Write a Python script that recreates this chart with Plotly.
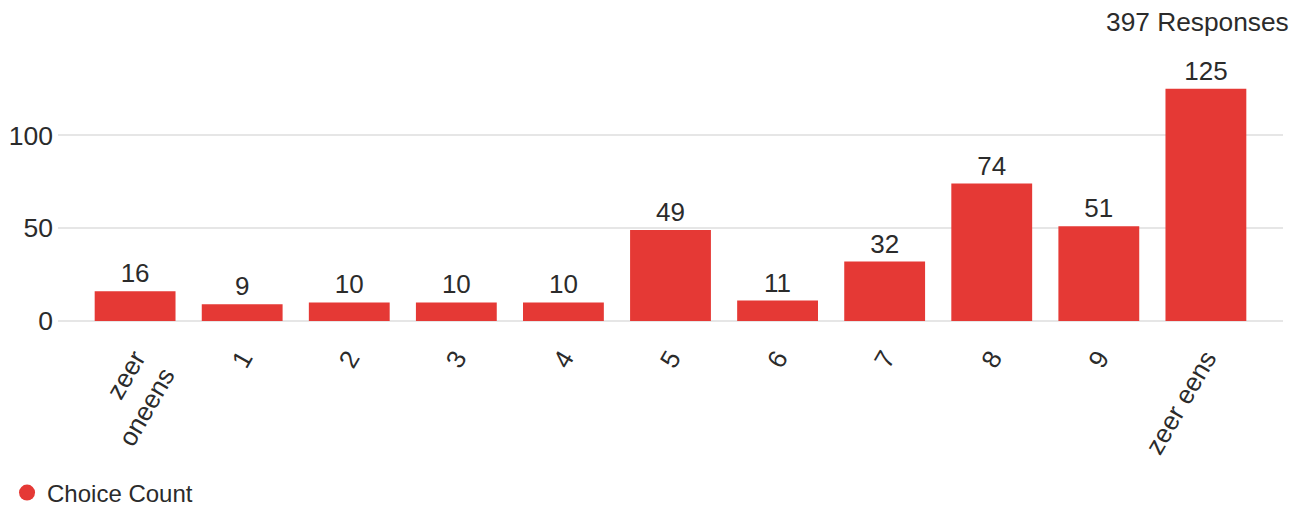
import plotly.graph_objects as go

categories = ["zeer<br>oneens", "1", "2", "3", "4", "5", "6", "7", "8", "9", "zeer eens"]
counts = [16, 9, 10, 10, 10, 49, 11, 32, 74, 51, 125]
series_name = "Choice Count"
total_label = "397 Responses"

BAR_COLOR = "#E53935"
FONT = "Liberation Sans, Arial, sans-serif"
TXT = "#2b2b2b"

# page body adds an 8px offset; the figure is sized to fit the 1304x506 window
W, H = 1296, 498
L, R, T, B = 50, 21, 52, 185
plot_h = H - T - B

fig = go.Figure()
fig.add_trace(go.Bar(
    x=categories, y=counts, name=series_name,
    marker=dict(color=BAR_COLOR, line=dict(width=0)),
    width=0.755,
    text=[str(v) for v in counts], textposition="outside",
    textfont=dict(family=FONT, size=26, color=TXT),
    cliponaxis=False, showlegend=False,
))
fig.add_trace(go.Scatter(
    x=[None], y=[None], mode="markers", name=series_name,
    marker=dict(color=BAR_COLOR, size=20, symbol="circle"),
    showlegend=True,
))

fig.update_layout(
    width=W, height=H,
    margin=dict(l=L, r=R, t=T, b=B, autoexpand=False),
    paper_bgcolor="white", plot_bgcolor="white",
    font=dict(family=FONT, size=26, color=TXT),
    xaxis=dict(
        type="category", range=[-0.72, 10.72], automargin=False,
        tickangle=-60, showgrid=False, showline=False, zeroline=False,
        ticks="", ticklabelstandoff=16,
        tickfont=dict(family=FONT, size=26, color=TXT),
    ),
    yaxis=dict(
        range=[0, 140.5], dtick=50, showgrid=True, gridcolor="#e6e6e6", gridwidth=2,
        zeroline=True, zerolinecolor="#e6e6e6", zerolinewidth=2, automargin=False,
        showline=False, ticks="", ticklabelstandoff=4,
        tickfont=dict(family=FONT, size=26.5, color=TXT),
    ),
    legend=dict(
        orientation="h", x=-0.0416, xanchor="left", y=(313 - 485) / plot_h, yanchor="middle",
        font=dict(family=FONT, size=24, color=TXT), itemsizing="trace",
    ),
    annotations=[dict(
        text=total_label, xref="paper", yref="paper", x=1, y=(313 - 14) / plot_h,
        xanchor="right", yanchor="middle", xshift=8,
        showarrow=False, font=dict(family=FONT, size=26.3, color=TXT),
    )],
)

fig.write_html("out.html")
